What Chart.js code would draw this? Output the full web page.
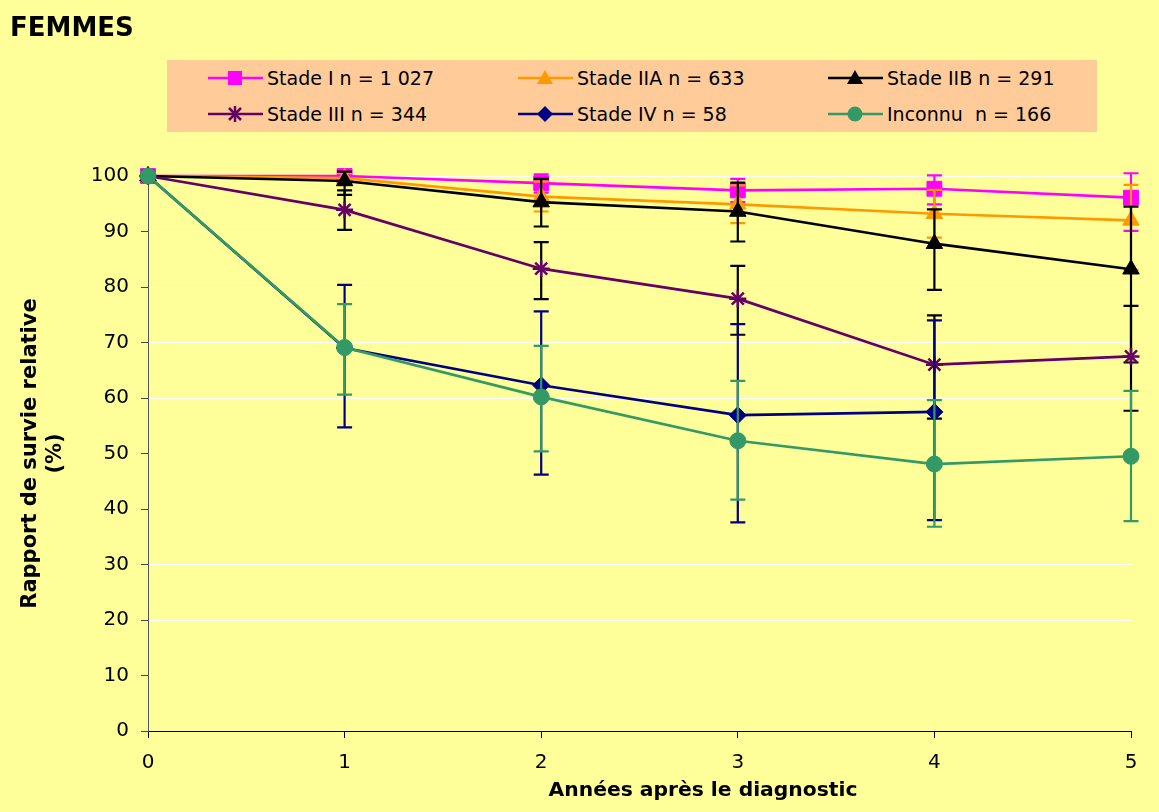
<!DOCTYPE html>
<html>
<head>
<meta charset="utf-8">
<script src="https://cdn.jsdelivr.net/npm/chart.js@4"></script>
<style>
  html, body { margin: 0; padding: 0; background: #FFFF99; }
  #wrap { position: relative; width: 1159px; height: 812px; font-family: "DejaVu Sans", sans-serif; }
  #title { position: absolute; left: 10px; top: 12px; font-weight: bold; font-size: 26px; color: #000; }
  #xtitle { position: absolute; left: 503px; width: 400px; top: 777px; text-align: center; font-weight: bold; font-size: 20.3px; color: #000; }
  #legend { position: absolute; left: 167px; top: 60px; width: 930px; height: 72px; background: #FFCC99; }
  .item { position: absolute; height: 24px; display: flex; align-items: center; font-size: 19px; color: #000; white-space: pre; }
  .item svg { margin-right: 4px; }
  canvas { position: absolute; left: 0; top: 0; }
</style>
</head>
<body>
<div id="wrap">
  <canvas id="chart" width="1159" height="812"></canvas>
  <div id="title">FEMMES</div>
  <div id="legend"></div>
  <div id="xtitle">Années après le diagnostic</div>
</div>
<script>
const years = [0, 1, 2, 3, 4, 5];
const seriesNames = ['Stade I n = 1 027', 'Stade IIA n = 633', 'Stade IIB n = 291',
  'Stade III n = 344', 'Stade IV n = 58', 'Inconnu  n = 166'];

const stadeI   = [100, 100, 98.7, 97.4, 97.7, 96.1];
const stadeIIA = [100, 99.6, 96.3, 94.9, 93.2, 92.0];
const stadeIIB = [100, 99.1, 95.3, 93.6, 87.8, 83.2];
const stadeIII = [100, 93.9, 83.3, 77.9, 66.0, 67.5];
const stadeIV  = [100, 69.0, 62.3, 56.9, 57.5, null];
const inconnu  = [100, 69.1, 60.2, 52.3, 48.1, 49.5];

// error bars (low / high)
const stadeILow   = [null, 99.3, 97.0, 95.3, 94.9, 90.1];
const stadeIHigh  = [null, 100.5, 100.3, 99.5, 100.1, 100.5];
const stadeIIALow  = [null, 98.5, 93.6, 91.5, 88.9, 83.1];
const stadeIIAHigh = [null, 100.5, 99.0, 98.3, 97.5, 98.4];
const stadeIIBLow  = [null, 96.6, 90.9, 88.2, 79.5, 66.4];
const stadeIIBHigh = [null, 100.8, 99.5, 98.8, 94.0, 94.5];
const stadeIIILow  = [null, 90.3, 77.8, 71.4, 56.3, 57.7];
const stadeIIIHigh = [null, 97.4, 88.1, 83.8, 74.9, 76.6];
const stadeIVLow   = [null, 54.7, 46.2, 37.6, 38.0, null];
const stadeIVHigh  = [null, 80.4, 75.6, 73.3, 74.0, null];
const inconnuLow   = [null, 60.6, 50.4, 41.7, 36.8, 37.8];
const inconnuHigh  = [null, 76.9, 69.4, 63.1, 59.6, 61.3];

const yTicks = [0, 10, 20, 30, 40, 50, 60, 70, 80, 90, 100];

const colors = ['#FF00FF', '#FF9900', '#000000', '#660066', '#000080', '#339966'];
const errColors = ['#FF00FF', '#FF9900', '#000000', '#000000', '#000080', '#339966'];
const styles = ['rect', 'triangle', 'triangle', 'star', 'rectRot', 'circle'];
const radii = [10.5, 9.5, 9.5, 8.5, 8.5, 8];

const values = [stadeI, stadeIIA, stadeIIB, stadeIII, stadeIV, inconnu];
const lows = [stadeILow, stadeIIALow, stadeIIBLow, stadeIIILow, stadeIVLow, inconnuLow];
const highs = [stadeIHigh, stadeIIAHigh, stadeIIBHigh, stadeIIIHigh, stadeIVHigh, inconnuHigh];

const datasets = values.map((vals, i) => ({
  label: seriesNames[i],
  data: years.map((x, j) => ({ x, y: vals[j], lo: lows[i][j], hi: highs[i][j] })).filter(p => p.y != null),
  borderColor: colors[i],
  backgroundColor: colors[i],
  pointStyle: styles[i],
  pointRadius: radii[i],
  pointBorderWidth: styles[i] === 'star' ? 2.5 : 1,
  borderWidth: 2.7,
  tension: 0,
  clip: false,
  order: 6 - i,
  errColor: errColors[i]
}));

const errorBars = {
  id: 'errorBars',
  beforeDatasetDraw(chart, args) {
    const ds = chart.data.datasets[args.index];
    const { ctx, scales: { x, y } } = chart;
    ctx.save();
    ctx.strokeStyle = ds.errColor;
    ctx.lineWidth = 2.2;
    ds.data.forEach(p => {
      if (p.lo == null) return;
      const px = x.getPixelForValue(p.x);
      const y1 = y.getPixelForValue(p.lo), y2 = y.getPixelForValue(p.hi);
      ctx.beginPath();
      ctx.moveTo(px, y1); ctx.lineTo(px, y2);
      ctx.moveTo(px - 7.5, y1); ctx.lineTo(px + 7.5, y1);
      ctx.moveTo(px - 7.5, y2); ctx.lineTo(px + 7.5, y2);
      ctx.stroke();
    });
    ctx.restore();
  }
};

Chart.defaults.font.family = '"DejaVu Sans", sans-serif';
Chart.defaults.color = '#000';

new Chart(document.getElementById('chart'), {
  type: 'line',
  data: { datasets },
  plugins: [errorBars],
  options: {
    responsive: false,
    animation: false,
    layout: { padding: { left: 0, right: 28, top: 176, bottom: 0 } },
    plugins: { legend: { display: false }, tooltip: { enabled: false } },
    scales: {
      x: {
        type: 'linear', min: 0, max: 5,
        afterFit: s => { s.height = 81; },
        ticks: { stepSize: 1, padding: 13, font: { size: 20 } },
        grid: { drawOnChartArea: false, tickLength: 7, tickColor: '#000' },
        border: { color: '#000', width: 1 }
      },
      y: {
        min: 0, max: 100,
        afterFit: s => { s.width = 148; },
        afterBuildTicks: s => { s.ticks = yTicks.map(v => ({ value: v })); },
        ticks: { padding: 12, font: { size: 20 } },
        grid: { color: c => c.tick && c.tick.value === 0 ? 'rgba(0,0,0,0)' : '#FFFFFF', lineWidth: 1, tickLength: 7, tickColor: '#444' },
        border: { color: '#555', width: 1 },
        title: { display: true, text: ['Rapport de survie relative', '(%)'], font: { size: 21, weight: 'bold', lineHeight: 1.2 }, padding: { top: 18, bottom: 0 } }
      }
    }
  }
});

// legend, laid out in three columns like the original
const legend = document.getElementById('legend');
const colX = [41, 351, 661];
const rowY = [6, 42];
function markerSvg(i) {
  const c = colors[i];
  let shape = '';
  if (styles[i] === 'rect') shape = `<rect x="20" y="3" width="14" height="14" fill="${c}"/>`;
  if (styles[i] === 'triangle') shape = `<polygon points="27,2 35,16 19,16" fill="${c}"/>`;
  if (styles[i] === 'star') shape = `<g stroke="${c}" stroke-width="2.5"><line x1="27" y1="2" x2="27" y2="18"/><line x1="21" y1="4" x2="33" y2="16"/><line x1="33" y1="4" x2="21" y2="16"/></g>`;
  if (styles[i] === 'rectRot') shape = `<polygon points="27,2 35,10 27,18 19,10" fill="${c}"/>`;
  if (styles[i] === 'circle') shape = `<circle cx="27" cy="10" r="7.5" fill="${c}"/>`;
  return `<svg width="55" height="20"><line x1="0" y1="10" x2="55" y2="10" stroke="${c}" stroke-width="2.7"/>${shape}</svg>`;
}
seriesNames.forEach((name, i) => {
  const d = document.createElement('div');
  d.className = 'item';
  d.style.left = colX[i % 3] + 'px';
  d.style.top = rowY[Math.floor(i / 3)] + 'px';
  d.innerHTML = markerSvg(i) + '<span>' + name + '</span>';
  legend.appendChild(d);
});
</script>
</body>
</html>
